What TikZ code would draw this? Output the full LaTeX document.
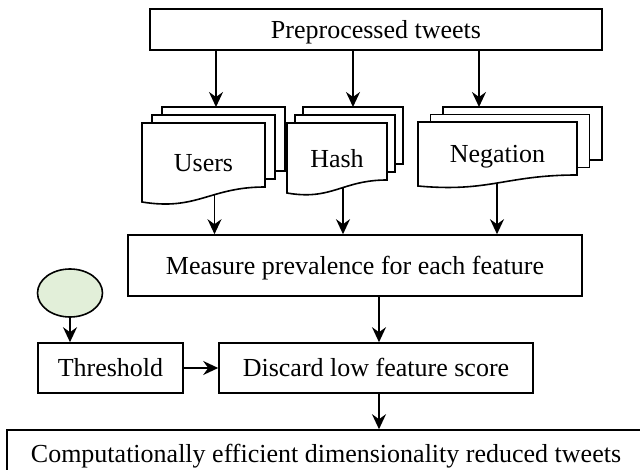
\documentclass[tikz,border=0pt]{standalone}
\usepackage{fontspec}
\setmainfont{Liberation Serif}
\usetikzlibrary{arrows.meta,shapes.geometric}
\definecolor{ellfill}{HTML}{E2EFD9}
\tikzset{
  box/.style={draw, line width=1.6pt, inner sep=0pt, text height=18pt, text depth=0pt, font=\fontsize{26}{30}\selectfont},
  sheet/.style={draw, fill=white, line width=1.6pt, line join=miter},
  arr/.style={line width=1.6pt, -{Stealth[length=15pt,width=14pt,inset=5pt]}},
  lbl/.style={anchor=base, inner sep=0pt, font=\fontsize{26}{30}\selectfont},
}
% #1 left, #2 top, #3 right, #4 bottom-left, #5 bottom-right, #6 dx, #7 dy
\newcommand{\docsheets}[7]{%
  \draw[sheet] ({#1+2*#6},{#2-2*#7}) rectangle ({#3+2*#6},{#5-2*#7});
  \draw[sheet] ({#1+#6},{#2-#7}) rectangle ({#3+#6},{#5-#7});
  \draw[sheet] (#1,#2) -- (#3,#2) -- (#3,#5)
    .. controls ({#3-0.45*(#3-#1)},#5) and ({#1+0.45*(#3-#1)},{#4+0.6*(#4-#5)}) .. (#1,#4) -- cycle;
}
\begin{document}
\begin{tikzpicture}[x=1pt,y=-1pt]
\useasboundingbox (0,0) rectangle (640,470);
\clip (0,0) rectangle (640,470);

% boxes
\node[box, minimum width=452pt, minimum height=41pt] (pre) at (376,29.5) {Preprocessed tweets};
\node[box, minimum width=454pt, minimum height=61pt] (meas) at (355,265.5) {Measure prevalence for each feature};
\node[ellipse, draw, line width=1.6pt, fill=ellfill, minimum width=65pt, minimum height=48pt, inner sep=0pt] (ell) at (70,293) {};
\node[box, minimum width=145pt, minimum height=50pt] (thr) at (110.5,368) {Threshold};
\node[box, minimum width=314pt, minimum height=50pt] (disc) at (376,368) {Discard low feature score};
\node[box, minimum width=638pt, minimum height=46pt] (fin) at (326,453) {Computationally efficient dimensionality reduced tweets};

% connector end points on the document stacks
\coordinate (uIn) at (216,107);
\coordinate (hIn) at (353,107);
\coordinate (nIn) at (479,107);
\coordinate (uOut) at (214.5,185);
\coordinate (hOut) at (343,175);
\coordinate (nOut) at (497,170);
\coordinate (mx) at (379,0);

% arrows from documents (drawn first, covered by the sheets)
\draw[arr] (uOut) -- (uOut |- meas.north);
\draw[arr] (hOut) -- (hOut |- meas.north);
\draw[arr] (nOut) -- (nOut |- meas.north);

% document stacks
\docsheets{142}{123}{265}{202}{187}{10}{8}
\docsheets{287}{123}{387}{193}{180}{8}{8}
\docsheets{418}{122}{577}{186}{175}{12.5}{7.5}
\node[lbl] (users) at (203.5,172) {Users};
\node[lbl] (hash) at (337,168) {Hash};
\node[lbl] (neg) at (497.5,163) {Negation};

% arrows from preprocessed tweets
\draw[arr] (uIn |- pre.south) -- (uIn);
\draw[arr] (hIn |- pre.south) -- (hIn);
\draw[arr] (nIn |- pre.south) -- (nIn);

% lower arrows
\draw[arr] (mx |- meas.south) -- (mx |- disc.north);
\draw[arr] (ell.south) -- (ell.south |- thr.north);
\draw[arr] (thr.east) -- (disc.west);
\draw[arr] (mx |- disc.south) -- (mx |- fin.north);
\end{tikzpicture}
\end{document}
